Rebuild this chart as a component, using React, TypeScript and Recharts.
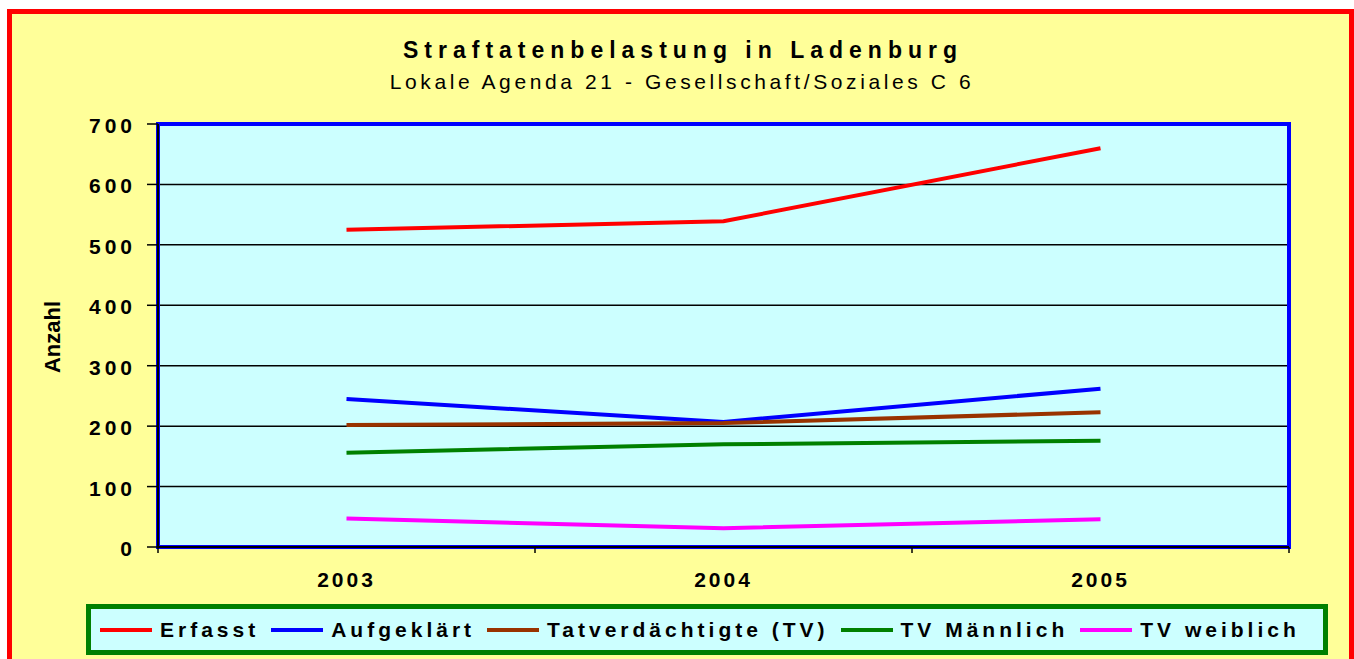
import React from 'react';
import { LineChart, Line, XAxis, YAxis, CartesianGrid, ReferenceArea, Legend } from 'recharts';

const years = ['2003', '2004', '2005'];
const erfasst = [525, 539, 660];
const aufgeklaert = [245, 207, 262];
const tatverdaechtigte = [202, 205, 223];
const tvMaennlich = [156, 170, 176];
const tvWeiblich = [47, 31, 46];
const yTicks = [0, 100, 200, 300, 400, 500, 600, 700];

const seriesNames = ['Erfasst', 'Aufgeklärt', 'Tatverdächtigte (TV)', 'TV Männlich', 'TV weiblich'];
const seriesColors = ['#FF0000', '#0000FF', '#993300', '#008000', '#FF00FF'];
const seriesKeys = ['erfasst', 'aufgeklaert', 'tatverdaechtigte', 'tvMaennlich', 'tvWeiblich'];
const seriesValues = [erfasst, aufgeklaert, tatverdaechtigte, tvMaennlich, tvWeiblich];

// category i occupies the band [i, i+1]; its point sits in the band centre
const data = years.map((year, i) => {
  const row: Record<string, number | string> = { x: i + 0.5, year };
  seriesKeys.forEach((k, s) => {
    row[k] = seriesValues[s][i];
  });
  return row;
});
const xTicks: number[] = [];
for (let i = 0; i <= years.length; i++) {
  xTicks.push(i);
  if (i < years.length) xTicks.push(i + 0.5);
}

const FONT = '"Liberation Sans", Arial, Helvetica, sans-serif';

const XTick = (props: any) => {
  const { x, y, payload } = props;
  const v = payload.value as number;
  if (Number.isInteger(v)) {
    return <line x1={x} x2={x} y1={y} y2={y + 6} stroke="#000" strokeWidth={1.5} />;
  }
  return (
    <text
      x={x}
      y={y + 40}
      textAnchor="middle"
      fontFamily={FONT}
      fontWeight="bold"
      fontSize={21}
      letterSpacing={3}
      fill="#000"
    >
      {years[Math.floor(v)]}
    </text>
  );
};

const YTick = (props: any) => {
  const { x, y, payload } = props;
  return (
    <text
      x={x}
      y={y + 9}
      textAnchor="end"
      fontFamily={FONT}
      fontWeight="bold"
      fontSize={21}
      letterSpacing={4}
      fill="#000"
    >
      {payload.value}
    </text>
  );
};

const LegendBox = (props: any) => {
  const payload = [...(props.payload || [])].sort(
    (a: any, b: any) => seriesNames.indexOf(a.value) - seriesNames.indexOf(b.value)
  );
  return (
    <div
      style={{
        boxSizing: 'border-box',
        width: 1242,
        height: 51,
        border: '5px solid #008000',
        background: '#CCFFFF',
        display: 'flex',
        alignItems: 'center',
        paddingLeft: 9,
        fontFamily: FONT,
        fontWeight: 'bold',
        fontSize: 21,
        letterSpacing: 4,
        color: '#000',
        whiteSpace: 'nowrap',
      }}
    >
      {payload.map((p: any, i: number) => (
        <div key={i} style={{ display: 'flex', alignItems: 'center', marginRight: 12 }}>
          <div style={{ width: 52, height: 4, background: p.color, marginRight: 8 }} />
          <span>{p.value}</span>
        </div>
      ))}
    </div>
  );
};

export default function App() {
  return (
    <div
      style={{
        position: 'fixed',
        left: 0,
        top: 0,
        width: 1354,
        height: 659,
        overflow: 'hidden',
        background: '#FFFFFF',
      }}
    >
      <div
        style={{
          position: 'absolute',
          left: 7,
          top: 9,
          width: 1347,
          height: 700,
          boxSizing: 'border-box',
          border: '5px solid #FF0000',
          background: '#FFFF99',
        }}
      />
      <div
        style={{
          position: 'absolute',
          left: 183,
          top: 39,
          width: 1000,
          textAlign: 'center',
          fontFamily: FONT,
          fontWeight: 'bold',
          fontSize: 23,
          lineHeight: '23px',
          letterSpacing: 6,
          color: '#000',
          whiteSpace: 'nowrap',
        }}
      >
        Straftatenbelastung in Ladenburg
      </div>
      <div
        style={{
          position: 'absolute',
          left: 182,
          top: 71,
          width: 1000,
          textAlign: 'center',
          fontFamily: FONT,
          fontSize: 21,
          lineHeight: '21px',
          letterSpacing: 3.6,
          color: '#000',
          whiteSpace: 'nowrap',
        }}
      >
        Lokale Agenda 21 - Gesellschaft/Soziales C 6
      </div>
      <div
        style={{
          position: 'absolute',
          left: 3,
          top: 325,
          width: 100,
          height: 24,
          lineHeight: '24px',
          textAlign: 'center',
          transform: 'rotate(-90deg)',
          fontFamily: FONT,
          fontWeight: 'bold',
          fontSize: 22,
          color: '#000',
        }}
      >
        Anzahl
      </div>
      <div style={{ position: 'absolute', left: 0, top: 0 }}>
        <LineChart width={1354} height={659} data={data} margin={{ top: 124, right: 65, bottom: 72, left: 0 }}>
          <CartesianGrid
            vertical={false}
            horizontal={true}
            stroke="#000000"
            strokeWidth={1.5}
            fill="#CCFFFF"
            fillOpacity={1}
          />
          <XAxis
            dataKey="x"
            type="number"
            domain={[0, years.length]}
            ticks={xTicks}
            interval={0}
            tick={<XTick />}
            tickLine={false}
            tickSize={0}
            tickMargin={0}
            height={40}
            axisLine={{ stroke: '#000', strokeWidth: 2 }}
            allowDecimals={true}
          />
          <YAxis
            type="number"
            domain={[0, 700]}
            ticks={yTicks}
            interval={0}
            width={158}
            tick={<YTick />}
            tickSize={11}
            tickMargin={11}
            tickLine={{ stroke: '#000', strokeWidth: 1.5 }}
            axisLine={{ stroke: '#000', strokeWidth: 2 }}
          />
          <ReferenceArea
            x1={0}
            x2={years.length}
            y1={0}
            y2={700}
            fill="none"
            fillOpacity={0}
            stroke="#0000FF"
            strokeWidth={4}
            ifOverflow="visible"
          />
          {seriesKeys.map((k, s) => (
            <Line
              key={k}
              type="linear"
              dataKey={k}
              name={seriesNames[s]}
              stroke={seriesColors[s]}
              strokeWidth={4}
              dot={false}
              activeDot={false}
              isAnimationActive={false}
            />
          ))}
          <Legend
            layout="horizontal"
            verticalAlign="middle"
            align="center"
            content={<LegendBox />}
            wrapperStyle={{ position: 'absolute', left: 86, top: 604, width: 1242, height: 51 }}
          />
        </LineChart>
      </div>
    </div>
  );
}
